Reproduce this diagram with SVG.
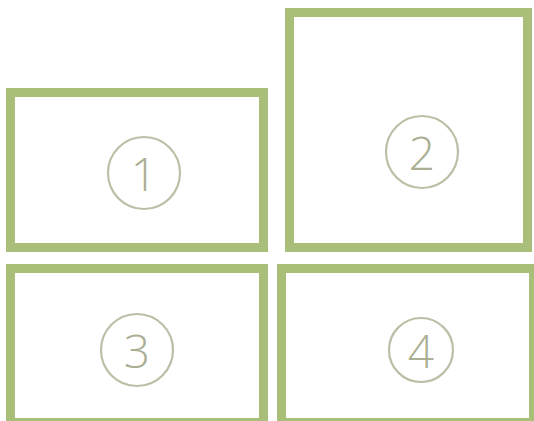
<svg xmlns="http://www.w3.org/2000/svg" width="534" height="421" viewBox="0 0 534 421">
<style>
.box{fill:#ffffff;stroke:#a9bf79;stroke-width:9}
.ring{fill:none;stroke:#bbbfa6;stroke-width:2.2}
.num{font-family:"Open Sans","Noto Sans",sans-serif;font-weight:300;font-size:46px;fill:#aaae92;text-anchor:middle;dominant-baseline:central}
</style>
<rect width="534" height="421" fill="#ffffff"/>
<g id="node1">
<rect class="box" x="10.5" y="92.5" width="253" height="155"/>
<circle class="ring" cx="144" cy="173" r="36"/>
<text class="num" x="144" y="173">1</text>
</g>
<g id="node2">
<rect class="box" x="289.5" y="12.5" width="238" height="235"/>
<circle class="ring" cx="422" cy="152" r="36"/>
<text class="num" x="422" y="152">2</text>
</g>
<g id="node3">
<rect class="box" x="10.5" y="268.5" width="253" height="154"/>
<circle class="ring" cx="137" cy="350" r="36"/>
<text class="num" x="137" y="350">3</text>
</g>
<g id="node4">
<rect class="box" x="281.5" y="268.5" width="252" height="154"/>
<circle class="ring" cx="421" cy="350" r="32"/>
<text class="num" x="421" y="350">4</text>
</g>
<g id="connectors"></g>
</svg>
